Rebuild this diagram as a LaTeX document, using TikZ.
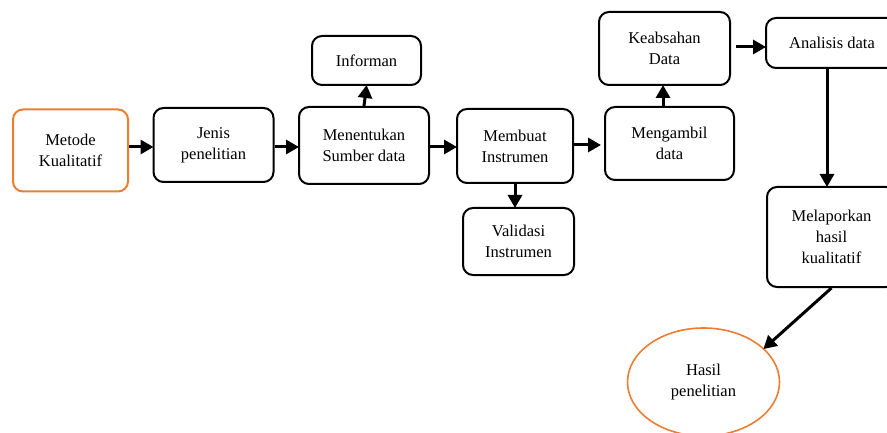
\documentclass[tikz,border=0pt]{standalone}
\usepackage{fontspec}
\setmainfont{Liberation Serif}
\usetikzlibrary{arrows.meta,shapes.geometric}
\definecolor{orng}{HTML}{ED7D31}
\tikzset{
  box/.style={draw=black, line width=2pt, rounded corners=10pt, align=center, inner sep=0pt,
    font=\fontsize{16.5}{21}\selectfont},
  obox/.style={box, draw=orng},
  oell/.style={ellipse, draw=orng, line width=1.6pt, align=center, inner sep=0pt,
    font=\fontsize{16.5}{21}\selectfont},
  arr/.style={line width=3pt, -{Triangle[length=13pt,width=14pt]}, shorten >=-1pt}
}
\begin{document}
\begin{tikzpicture}[x=1pt,y=-1pt]
\useasboundingbox (0,0) rectangle (887,433);
\node[obox, minimum width=115pt, minimum height=82pt] (metode) at (70.5,150.5) {Metode\\Kualitatif};
\node[box, minimum width=120pt, minimum height=74pt] (jenis) at (213.5,145) {Jenis\\penelitian};
\node[box, minimum width=130pt, minimum height=77pt] (menent) at (364,145.5) {Menentukan\\Sumber data};
\node[box, minimum width=109pt, minimum height=49pt] (inform) at (366.5,60.5) {Informan};
\node[box, minimum width=116pt, minimum height=74pt] (membuat) at (515,146) {Membuat\\Instrumen};
\node[box, minimum width=111pt, minimum height=67pt] (valid) at (518.5,241.5) {Validasi\\Instrumen};
\node[box, minimum width=131pt, minimum height=73pt] (keab) at (664.5,48.5) {Keabsahan\\Data};
\node[box, minimum width=129pt, minimum height=73pt] (mengam) at (669.5,143.5) {Mengambil\\data};
\node[box, minimum width=132pt, minimum height=50pt] (analisis) at (832,43) {Analisis data};
\node[box, minimum width=129pt, minimum height=100pt] (melap) at (831.5,237) {Melaporkan\\hasil\\kualitatif};
\node[oell, minimum width=152pt, minimum height=108pt] (hasil) at (703.5,382) {Hasil\\penelitian};

\draw[arr] ([yshift=3.5pt]metode.east) -- ([yshift=3.5pt]metode.east -| jenis.west);
\draw[arr] ([yshift=-2pt]jenis.east) -- ([yshift=-2pt]jenis.east -| menent.west);
\draw[arr] (menent.north) -- (inform.south);
\draw[arr] ([yshift=-1.5pt]menent.east) -- ([yshift=-1.5pt]menent.east -| membuat.west);
\draw[arr] ([yshift=1pt]membuat.east) -- ([yshift=1pt,xshift=-4pt]membuat.east -| mengam.west);
\draw[arr] (membuat.south) -- (membuat.south |- valid.north);
\draw[arr] ([xshift=-1.5pt]keab.south |- mengam.north) -- ([xshift=-1.5pt]keab.south);
\draw[arr] ([xshift=5pt,yshift=1.5pt]keab.east) -- ([yshift=1.5pt]keab.east -| analisis.west);
\draw[arr] ([xshift=-5pt]analisis.south) -- ([xshift=-5pt]analisis.south |- melap.north);
\draw[arr] (melap.south) -- (hasil.29);
\end{tikzpicture}
\end{document}
